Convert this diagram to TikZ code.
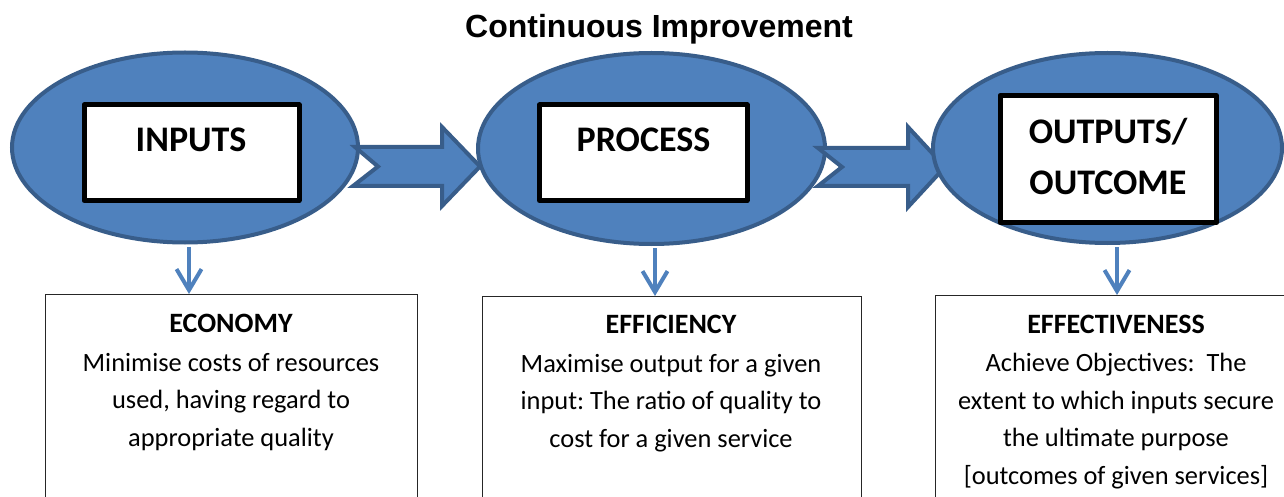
\documentclass[tikz,border=0pt]{standalone}
\usepackage{fontspec}
\setmainfont{Carlito}
\newfontfamily\titlefont{Liberation Sans}
\usetikzlibrary{shapes.geometric,arrows.meta}
\definecolor{blfill}{HTML}{4F81BD}
\definecolor{blline}{HTML}{385D8A}
\frenchspacing
\begin{document}
\begin{tikzpicture}[x=1pt,y=-1pt,
  oval/.style={ellipse, draw=blline, fill=blfill, line width=4pt, inner sep=0pt},
  inbox/.style={draw=black, fill=white, line width=5pt, inner sep=0pt, line join=round},
  bigword/.style={anchor=base, font=\fontsize{36}{51}\selectfont\bfseries, inner sep=0pt, align=center},
  blockarrow/.style={draw=blline, fill=blfill, line width=4pt, line join=miter},
  downarrow/.style={draw=blfill, line width=4pt, shorten <=2pt, -{Straight Barb[sharp,length=21pt,width=25pt]}},
  infobox/.style={draw=black!85, line width=1.3pt, inner sep=0pt, anchor=north west},
  head/.style={anchor=base, font=\fontsize{28}{34}\selectfont\bfseries, inner sep=0pt},
  body/.style={anchor=base, font=\fontsize{26.4}{37.5}\selectfont, inner sep=0pt, align=center}
]
\useasboundingbox (0,0) rectangle (1284,497);
\clip (0,0) rectangle (1284,497);

% title
\node[anchor=base, inner sep=0pt, font=\titlefont\bfseries\fontsize{32}{36}\selectfont] (title) at (659,38) {Continuous Improvement};

% ellipses and block arrows
\node[oval, minimum width=346pt, minimum height=190pt] (e1) at (185,147.5) {};
\draw[blockarrow] (355,147) -- (442,147) -- (442,127) -- (480,166.5) -- (442,206) -- (442,186) -- (353,186) -- (378,166.5) -- cycle;
\node[oval, minimum width=347pt, minimum height=191pt] (e2) at (651.5,148.5) {};
\draw[blockarrow] (818,148) -- (908,148) -- (908,127) -- (945,167) -- (908,207) -- (908,186) -- (818,186) -- (842,167) -- cycle;
\node[oval, minimum width=349pt, minimum height=190pt] (e3) at (1107.5,148) {};

% inner boxes
\node[inbox, minimum width=215pt, minimum height=95.5pt] (ib1) at (191.5,152.75) {};
\node[bigword] (t1) at (191,152) {INPUTS};
\node[inbox, minimum width=207.5pt, minimum height=95.5pt] (ib2) at (643.25,152.75) {};
\node[bigword] (t2) at (643.5,152) {PROCESS};
\node[inbox, minimum width=216.5pt, minimum height=127pt] (ib3) at (1108.25,159) {};
\node[bigword] (t3) at (1108,194) {OUTPUTS/\\OUTCOME};

% bottom boxes
\node[infobox, minimum width=372pt, minimum height=230pt] (b1) at (45,294) {};
\node[head] (h1) at (231,332) {ECONOMY};
\node[body] (x1) at (231,446) {Minimise costs of resources\\used, having regard to\\appropriate quality};

\node[infobox, minimum width=379pt, minimum height=230pt] (b2) at (482,296) {};
\node[head] (h2) at (671,333) {EFFICIENCY};
\node[body] (x2) at (671,447) {Maximise output for a given\\input: The ratio of quality to\\cost for a given service};

\node[infobox, minimum width=362pt, minimum height=230pt] (b3) at (935,295) {};
\node[head] (h3) at (1116,333) {EFFECTIVENESS};
\node[body] (x3) at (1116,484) {Achieve Objectives:~ The\\extent to which inputs secure\\the ultimate purpose\\{[}outcomes of given services{]}};

% down arrows
\coordinate (c1) at (189,0);
\coordinate (c2) at (655,0);
\coordinate (c3) at (1117,0);
\draw[downarrow] (e1.south -| c1) -- (b1.north -| c1);
\draw[downarrow] (e2.south -| c2) -- (b2.north -| c2);
\draw[downarrow] (e3.south -| c3) -- (b3.north -| c3);
\end{tikzpicture}
\end{document}
